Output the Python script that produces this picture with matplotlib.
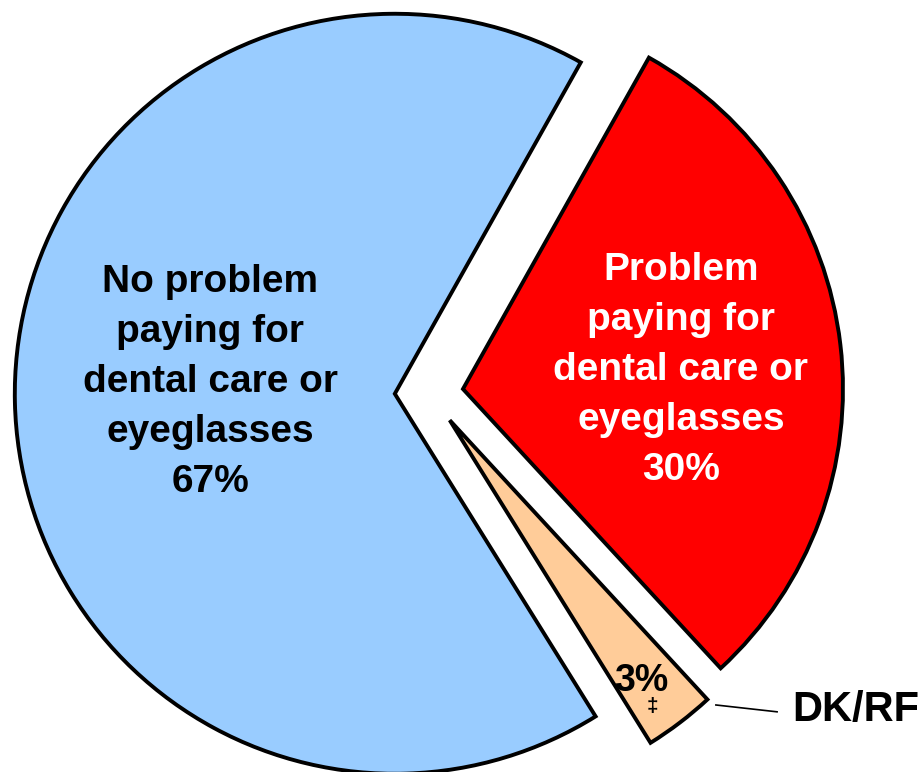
import matplotlib
matplotlib.use('Agg')
import matplotlib.pyplot as plt

plt.rcParams['font.family'] = ['Liberation Sans', 'DejaVu Sans']

# slices in counter-clockwise order starting at the top right
labels = ['No problem\npaying for\ndental care or\neyeglasses\n67%',
          '3%',
          'Problem\npaying for\ndental care or\neyeglasses\n30%']
values = [67, 3, 30]
colors = ['#99CCFF', '#FFCC99', '#FF0000']
explode = [0.09, 0.09, 0.09]

fig = plt.figure(figsize=(9.24, 7.72), dpi=100)
ax = fig.add_axes([0, 0, 1, 1])

ax.pie(values, colors=colors, explode=explode, startangle=60.7,
       counterclock=True, radius=1.0,
       wedgeprops=dict(edgecolor='black', linewidth=2.8, joinstyle='miter'))

# pixel scale: radius of 1 = 380 px, pie centre at (429, 393) px
ax.set_xlim(-429 / 380, (924 - 429) / 380)
ax.set_ylim(-(772 - 393) / 380, 393 / 380)
ax.set_aspect('equal')
ax.axis('off')

ax.text(-0.576, 0.029, labels[0], ha='center', va='center', fontsize=28,
        fontweight='bold', color='black', linespacing=1.5)
ax.text(0.663, 0.061, labels[2], ha='center', va='center', fontsize=28,
        fontweight='bold', color='white', linespacing=1.5)
ax.text(0.558, -0.758, labels[1], ha='center', va='center', fontsize=27,
        fontweight='bold', color='black')
ax.text(0.587, -0.826, '\u2021', ha='center', va='center', fontsize=15,
        fontweight='bold', color='black')

ax.plot([0.755, 0.916], [-0.821, -0.839], color='black', linewidth=1.2)
ax.text(0.955, -0.834, 'DK/RF', ha='left', va='center', fontsize=30,
        fontweight='bold', color='black')

plt.savefig('out.png', dpi=100)
